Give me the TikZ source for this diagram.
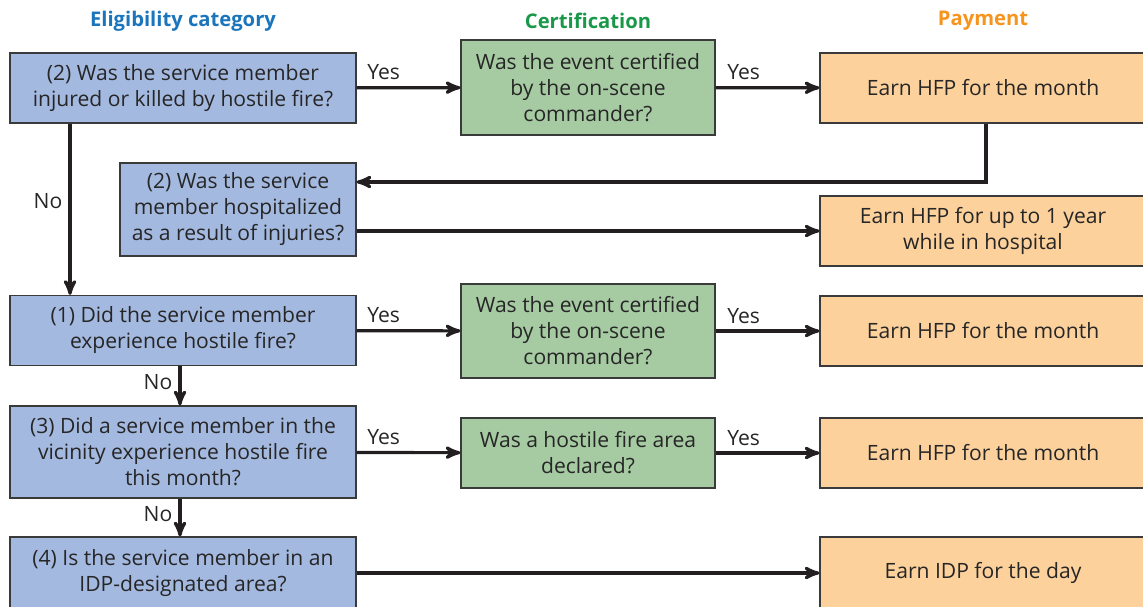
\documentclass[tikz,border=0pt]{standalone}
\usepackage{fontspec}
\setmainfont{Open Sans}
\usetikzlibrary{arrows}
\definecolor{qblue}{HTML}{A4B9E0}
\definecolor{cgreen}{HTML}{A6CBA2}
\definecolor{porange}{HTML}{FDD19C}
\definecolor{hblue}{HTML}{1B75BC}
\definecolor{hgreen}{HTML}{1A9849}
\definecolor{horange}{HTML}{F7941D}
\definecolor{boxline}{HTML}{3A3A3A}
\definecolor{arrowline}{HTML}{231F20}
\def\colq{183}
\def\colc{588}
\def\colp{983}

\begin{document}
\begin{tikzpicture}[x=0.02cm,y=-0.02cm,->,>=stealth',shorten >=0pt,
  line width=1.8pt,draw=arrowline,
  box node/.style={draw=boxline,line width=0.7pt,inner sep=0pt,align=center,
    font=\fontsize{12}{14.8}\selectfont,text=black!85},
  question node/.style={box node,fill=qblue,minimum width=6.92cm},
  cert node/.style={box node,fill=cgreen,minimum width=5.08cm},
  pay node/.style={box node,fill=porange,minimum width=6.52cm,minimum height=1.4cm},
  head node/.style={font=\fontsize{11.5}{14}\selectfont\bfseries},
  answer/.style={font=\fontsize{12}{14}\selectfont,text=black!85,inner sep=3.5pt}]

\useasboundingbox (0,0) rectangle (1143,606);
\clip (0,0) rectangle (1143,606);

  \node[head node,text=hblue] at (\colq,21) (hq) {Eligibility category};
  \node[head node,text=hgreen] at (\colc,21) (hc) {Certification};
  \node[head node,text=horange] at (\colp,21) (hp) {Payment};

  \node[question node,minimum height=1.4cm] at (\colq,88) (q2a)
    {(2) Was the service member\\injured or killed by hostile fire?};
  \node[cert node,minimum height=1.9cm] at (\colc,87.5) (cert1)
    {Was the event certified\\by the on-scene\\commander?};
  \node[pay node] at (\colp,88) (pay1) {Earn HFP for the month};

  \node[box node,fill=qblue,minimum width=4.72cm,minimum height=1.86cm] at (238,209.5) (q2b)
    {(2) Was the service\\member hospitalized\\as a result of injuries?};
  \node[pay node] at (\colp,231) (pay2) {Earn HFP for up to 1 year\\while in hospital};

  \node[question node,minimum height=1.4cm] at (\colq,330.5) (q1)
    {(1) Did the service member\\experience hostile fire?};
  \node[cert node,minimum height=1.88cm] at (\colc,331) (cert2)
    {Was the event certified\\by the on-scene\\commander?};
  \node[pay node] at (\colp,331) (pay3) {Earn HFP for the month};

  \node[question node,minimum height=1.84cm] at (\colq,452) (q3)
    {(3) Did a service member in the\\vicinity experience hostile fire\\this month?};
  \node[cert node,minimum height=1.4cm] at (\colc,453) (cert3)
    {Was a hostile fire area\\declared?};
  \node[pay node] at (\colp,453) (pay4) {Earn HFP for the month};

  \node[question node,minimum height=1.44cm] at (\colq,573) (q4)
    {(4) Is the service member in an\\IDP-designated area?};
  \node[pay node,minimum height=1.44cm] at (\colp,573) (pay5) {Earn IDP for the day};

  \path
    (q2a) edge node[answer,pos=0.26,above] {Yes} (cert1)
    (cert1) edge node[answer,pos=0.27,above] {Yes} (pay1)
    (q1) edge node[answer,pos=0.26,above] {Yes} (cert2)
    (cert2) edge node[answer,pos=0.27,above] {Yes} (pay3)
    (q3) edge node[answer,pos=0.26,above] {Yes} (cert3)
    (cert3) edge node[answer,pos=0.27,above] {Yes} (pay4)
    ([xshift=-0.06cm]q1.south) edge node[answer,pos=0.4,left] {No} ([xshift=-0.06cm]q3.north)
    ([xshift=-0.06cm]q3.south) edge node[answer,pos=0.4,left] {No} ([xshift=-0.06cm]q4.north)
    (q4) edge (pay5);

  \draw ([xshift=-2.26cm]q2a.south) -- node[answer,pos=0.45,left] {No} ([xshift=-2.26cm]q1.north);
  \draw ([xshift=0.06cm]pay1.south) |- ([yshift=0.55cm]q2b.east);
  \draw (q2b.east |- pay2.west) -- (pay2.west);

\end{tikzpicture}
\end{document}
